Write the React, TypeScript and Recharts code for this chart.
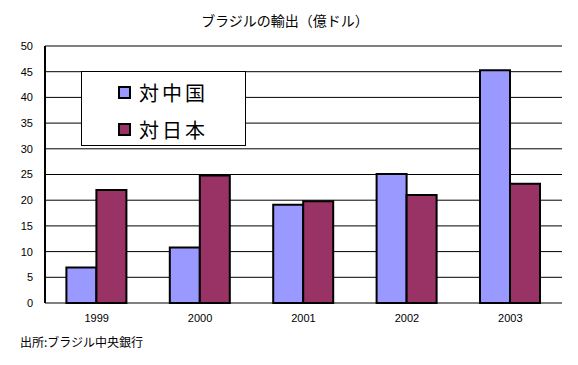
import React from "react";
import { BarChart, Bar, XAxis, YAxis, CartesianGrid, Legend, ReferenceLine } from "recharts";

const years = ["1999", "2000", "2001", "2002", "2003"];
const toChina = [6.9, 10.8, 19.1, 25.1, 45.3];
const toJapan = [22.0, 24.8, 19.8, 21.0, 23.2];
const yTicks = [0, 5, 10, 15, 20, 25, 30, 35, 40, 45, 50];
const seriesNames = ["対中国", "対日本"];
const seriesColors = ["#9999FF", "#993366"];
const titleText = "ブラジルの輸出（億ドル）";
const sourceText = "出所:ブラジル中央銀行";

const data = years.map((y, i) => ({ year: y, china: toChina[i], japan: toJapan[i] }));

const LegendBox = () => (
  <div
    style={{
      width: 165,
      height: 75,
      boxSizing: "border-box",
      border: "1px solid #000",
      background: "#fff",
      paddingLeft: 36,
      paddingTop: 6,
    }}
  >
    {seriesNames.map((n, i) => (
      <div key={n} style={{ display: "flex", alignItems: "center", height: 29, marginBottom: i === 0 ? 8 : 0 }}>
        <span
          style={{
            display: "inline-block",
            width: 13,
            height: 13,
            boxSizing: "border-box",
            border: "2px solid #000",
            background: seriesColors[i],
            marginRight: 8,
          }}
        />
        <span style={{ fontFamily: "'Noto Sans CJK JP'", fontSize: 20, letterSpacing: 3, color: "#000", lineHeight: "29px" }}>
          {n}
        </span>
      </div>
    ))}
  </div>
);

export default function App() {
  const font = "'Liberation Sans', Arial, sans-serif";
  return (
    <div style={{ position: "absolute", left: 0, top: 0, width: 578, height: 365, background: "#fff" }}>
      <div
        style={{
          position: "absolute",
          left: 0,
          width: 570,
          top: 10,
          textAlign: "center",
          fontFamily: "'Noto Sans CJK JP'",
          fontSize: 14,
          color: "#000",
        }}
      >
        {titleText}
      </div>
      <BarChart
        width={578}
        height={365}
        data={data}
        margin={{ top: 46, right: 16, bottom: 32, left: 0 }}
        barCategoryGap="20.7%"
        barGap={0}
      >
        <CartesianGrid horizontal vertical={false} stroke="#000" strokeWidth={1} />
        <XAxis
          xAxisId="b"
          type="number"
          domain={[0, 5]}
          ticks={[0, 1, 2, 3, 4, 5]}
          height={0}
          mirror
          tickSize={4}
          tick={false}
          tickLine={{ stroke: "#000" }}
          axisLine={{ stroke: "#000", strokeWidth: 2 }}
          allowDataOverflow
        />
        <XAxis
          dataKey="year"
          height={30}
          tickLine={false}
          axisLine={false}
          tickSize={0}
          tickMargin={11}
          interval={0}
          tick={{ fontFamily: font, fontSize: 11, fill: "#000" }}
        />
        <YAxis
          width={45}
          domain={[0, 50]}
          ticks={yTicks}
          interval={0}
          tickLine={false}
          tickSize={0}
          tickMargin={12}
          axisLine={{ stroke: "#000", strokeWidth: 2 }}
          tick={{ fontFamily: font, fontSize: 11, fill: "#000" }}
        />
        <ReferenceLine y={50} stroke="#808080" strokeWidth={2} />
        <ReferenceLine x={5} xAxisId="b" stroke="#808080" strokeWidth={2} />
        <Legend
          layout="vertical"
          align="center"
          verticalAlign="middle"
          content={<LegendBox />}
          wrapperStyle={{ position: "absolute", left: 81, top: 71, width: 165, height: 75 }}
        />
        <Bar dataKey="china" name={seriesNames[0]} fill={seriesColors[0]} stroke="#000" strokeWidth={2} isAnimationActive={false} />
        <Bar dataKey="japan" name={seriesNames[1]} fill={seriesColors[1]} stroke="#000" strokeWidth={2} isAnimationActive={false} />
      </BarChart>
      <div
        style={{
          position: "absolute",
          left: 20,
          top: 333,
          fontFamily: "'Noto Sans CJK JP'",
          fontSize: 12,
          color: "#000",
        }}
      >
        {sourceText}
      </div>
    </div>
  );
}
